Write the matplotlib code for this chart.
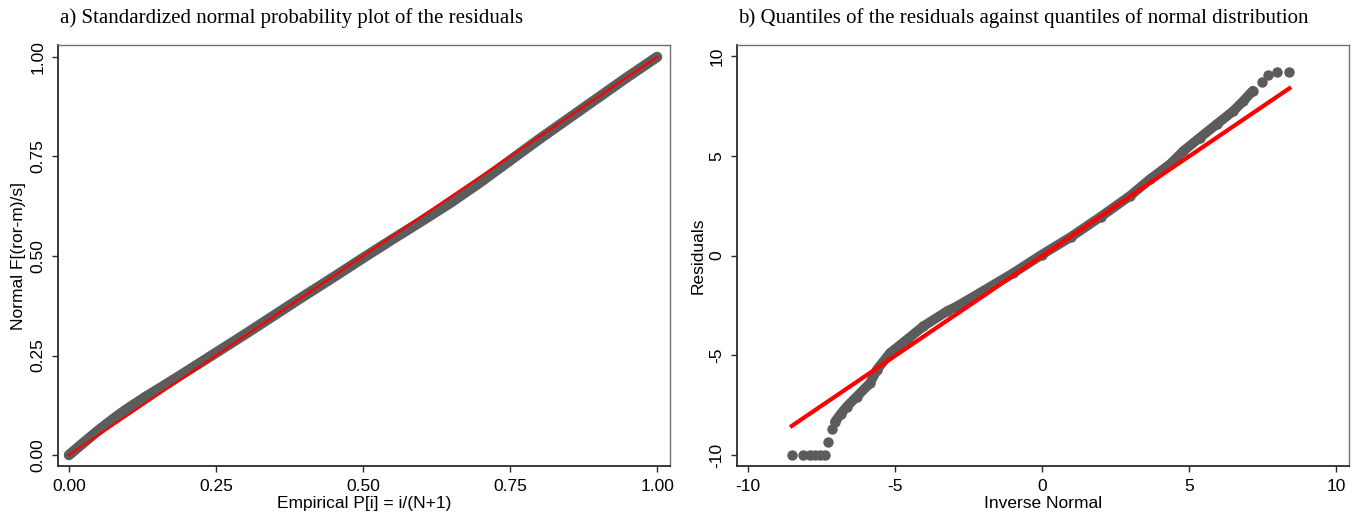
import matplotlib
matplotlib.use("Agg")
import matplotlib.pyplot as plt

plt.rcParams['font.family'] = ['Liberation Sans', 'DejaVu Sans']
plt.rcParams['axes.unicode_minus'] = False

# a) standardized normal probability plot (values read off the picture)
emp_p = [0.00, 0.02, 0.05, 0.08, 0.10, 0.13, 0.16, 0.20, 0.25, 0.30, 0.35, 0.40,
         0.45, 0.50, 0.55, 0.60, 0.65, 0.70, 0.75, 0.80, 0.85, 0.90, 0.95, 0.98, 1.00]
norm_f = [0.000, 0.025, 0.062, 0.096, 0.117, 0.146, 0.173, 0.210, 0.257, 0.304,
          0.352, 0.400, 0.447, 0.495, 0.542, 0.588, 0.635, 0.686, 0.740, 0.794,
          0.846, 0.898, 0.950, 0.980, 1.000]
ref_a = [0.0, 1.0]

# b) quantiles of residuals vs inverse normal
inv_norm = [-8.51, -8.13, -7.89, -7.72, -7.55, -7.38, -7.27, -7.15, -7.04, -6.85,
            -6.64, -6.30, -5.85, -5.62, -5.17, -4.60, -4.04, -3.24, -2.90, -2.11,
            -1.00, 0.00, 1.00, 2.00, 3.00, 3.67, 4.35, 4.81, 5.37, 5.94, 6.51,
            6.85, 7.17, 7.47, 7.70, 8.00, 8.40]
resid = [-10.0, -10.0, -10.0, -10.0, -10.0, -10.0, -9.33, -8.69, -8.33, -7.95,
         -7.57, -7.07, -6.40, -5.73, -4.89, -4.22, -3.55, -2.80, -2.55, -1.87,
         -0.90, 0.05, 0.95, 1.95, 3.00, 3.82, 4.57, 5.24, 5.91, 6.58, 7.25,
         7.75, 8.26, 8.68, 9.05, 9.18, 9.18]
ref_b_x = [-8.51, 8.41]
ref_b_y = [-8.54, 8.38]

xticks_a = [0.0, 0.25, 0.5, 0.75, 1.0]
xticks_b = [-10, -5, 0, 5, 10]

gray = "#5c5c5c"
red = "#ff0000"


def style_axes(ax):
    for side in ["left", "bottom"]:
        ax.spines[side].set_color("#2a2a2a")
        ax.spines[side].set_linewidth(1.3)
    for side in ["top", "right"]:
        ax.spines[side].set_color("#707070")
        ax.spines[side].set_linewidth(1.0)
    ax.tick_params(direction="out", length=4, width=1.0, color="#2a2a2a",
                   labelsize=12.5, pad=5, top=False, right=False)
    plt.setp(ax.get_yticklabels(), rotation=90, va="center")


fig = plt.figure(figsize=(13.61, 5.17), dpi=100)

ax1 = fig.add_axes([0.0426, 0.0986, 0.4497, 0.8143])
ax1.plot(emp_p, norm_f, color=gray, lw=7.5, solid_capstyle="round",
         solid_joinstyle="round", zorder=2)
ax1.plot(ref_a, ref_a, color=red, lw=1.6, zorder=3)
ax1.set_xlim(-0.0187, 1.022)
ax1.set_ylim(-0.0276, 1.030)
ax1.set_xticks(xticks_a)
ax1.set_xticklabels(["%.2f" % v for v in xticks_a])
ax1.set_yticks(xticks_a)
ax1.set_yticklabels(["%.2f" % v for v in xticks_a])
ax1.set_xlabel("Empirical P[i] = i/(N+1)", fontsize=12.5, labelpad=2)
ax1.set_ylabel("Normal F[(ror-m)/s]", fontsize=12.5, labelpad=3)
style_axes(ax1)

ax2 = fig.add_axes([0.5415, 0.0986, 0.4497, 0.8143])
# dense central band drawn as a thick line, all quantiles as dots
ax2.plot(inv_norm[8:33], resid[8:33], color=gray, lw=7, solid_capstyle="round",
         solid_joinstyle="round", zorder=2)
ax2.plot(inv_norm, resid, "o", color=gray, ms=7.5, mew=0, zorder=2)
ax2.plot(ref_b_x, ref_b_y, color=red, lw=3, zorder=3)
ax2.set_xlim(-10.374, 10.44)
ax2.set_ylim(-10.55, 10.55)
ax2.set_xticks(xticks_b)
ax2.set_yticks(xticks_b)
ax2.set_xlabel("Inverse Normal", fontsize=12.5, labelpad=2)
ax2.set_ylabel("Residuals", fontsize=12.5, labelpad=3)
style_axes(ax2)

fig.text(60 / 1361, 1 - 18 / 517,
         "a) Standardized normal probability plot of the residuals",
         family="Liberation Serif", fontsize=15, va="center", ha="left")
fig.text(738 / 1361, 1 - 18 / 517,
         "b) Quantiles of the residuals against quantiles of normal distribution",
         family="Liberation Serif", fontsize=15, va="center", ha="left")

fig.savefig("out.png", dpi=100)
